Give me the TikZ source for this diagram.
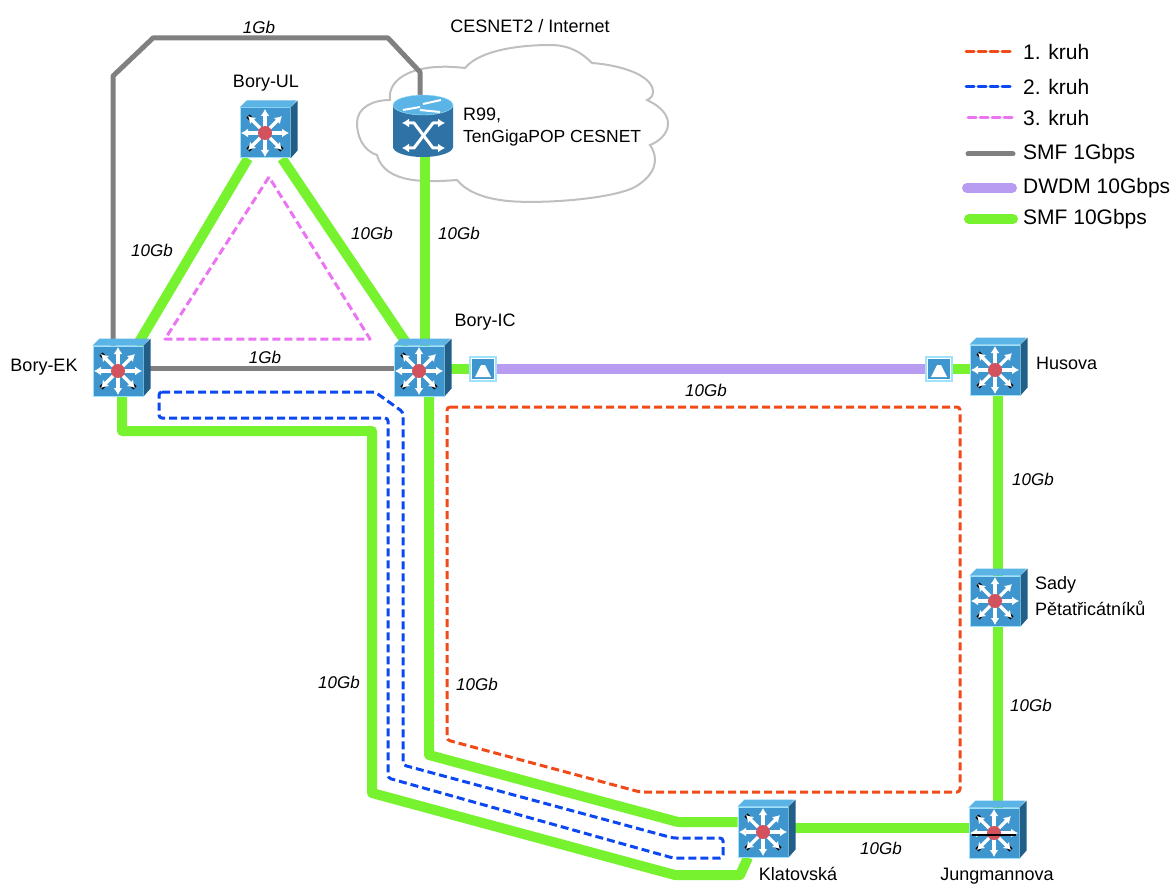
\documentclass[tikz,border=0pt]{standalone}
\usepackage{fontspec}
\setmainfont{Liberation Sans}
\usetikzlibrary{arrows.meta,backgrounds,calc,positioning}
\definecolor{SMFgreen}{HTML}{77F22E}
\definecolor{DWDMviolet}{HTML}{B79CF2}
\definecolor{SMFgray}{HTML}{808080}
\definecolor{RingRed}{HTML}{F04A18}
\definecolor{RingBlue}{HTML}{0C48F2}
\definecolor{RingPink}{HTML}{EA74F2}
\definecolor{CiscoBlue}{HTML}{3F96CF}
\definecolor{CiscoEdge}{HTML}{9FE2FB}
\definecolor{CiscoTop}{HTML}{5BB4E6}
\definecolor{CiscoSide}{HTML}{215F88}
\definecolor{CiscoDrum}{HTML}{2F72A6}
\definecolor{CiscoHub}{HTML}{D2525E}
\tikzset{
  smfgreen/.style={draw=SMFgreen,line width=10pt,line join=round},
  smfgray/.style={draw=SMFgray,line width=5pt,line join=round},
  dwdm/.style={draw=DWDMviolet,line width=10pt},
  ringred/.style={draw=RingRed,line width=3pt,dash pattern=on 8pt off 4pt,rounded corners=3pt},
  ringblue/.style={draw=RingBlue,line width=3pt,dash pattern=on 8pt off 4pt,rounded corners=3pt},
  ringpink/.style={draw=RingPink,line width=3pt,dash pattern=on 8pt off 4pt,line join=round},
  switchface/.style={rectangle,draw=CiscoEdge,line width=1pt,fill=CiscoBlue,minimum width=50pt,minimum height=50pt,inner sep=0pt},
  routerbody/.style={rectangle,minimum width=60pt,minimum height=62pt,inner sep=0pt},
  dwdmbox/.style={rectangle,draw=CiscoEdge,line width=2pt,fill=white,minimum width=26pt,minimum height=24pt,inner sep=0pt},
  spoke/.style={white,line width=3.2pt,-{Latex[length=7pt,width=9pt]}},
  crossarrow/.style={white,line width=3pt,line join=round,{Latex[length=7pt,width=9pt]}-{Latex[length=7pt,width=9pt]}},
  lab/.style={font=\fontsize{18}{21}\selectfont,inner sep=0pt},
  speed/.style={font=\fontsize{17}{20}\selectfont\itshape,inner sep=0pt},
  legend/.style={font=\fontsize{21}{24}\selectfont,inner sep=0pt,anchor=west},
}
\newcommand{\switchicon}[2]{%
  \node[switchface] (#1) at (#2) {};
  \fill[CiscoTop] (#1.north west) -- ++(7,-7) -- ++(50,0) -- (#1.north east) -- cycle;
  \fill[CiscoSide] (#1.north east) -- ++(7,-7) -- ++(0,50) -- (#1.south east) -- cycle;
  \foreach \a in {45,135,225}
    \draw[black,line width=4.4pt] (#1.center) ++(\a:17) -- ++(\a:7);
  \foreach \a in {0,45,...,315}
    \draw[spoke] (#1.center) -- ++(\a:24);
  \fill[CiscoHub] (#1.center) circle (7);
}
\newcommand{\dwdmicon}[2]{%
  \node[dwdmbox] (#1) at (#2) {};
  \fill[CiscoBlue] ($(#1.north west)+(3,3)$) rectangle ($(#1.south east)+(-3,-3)$);
  \fill[white] ($(#1.south)+(-8,-5)$) -- ++(16,0) -- ++(-6,-12) -- ++(-4,0) -- cycle;
}
\begin{document}
\begin{tikzpicture}[x=1pt,y=-1pt,>=Latex]
  \useasboundingbox (0,0) rectangle (1175,885);

  % icons
  \switchicon{boryul}{265,133}
  \switchicon{boryek}{118,371}
  \switchicon{boryic}{419,371}
  \switchicon{husova}{995,370}
  \switchicon{sady}{995,601}
  \switchicon{klatovska}{763,832}
  \switchicon{jungmannova}{994,833}
  \draw[black,line width=1.4pt] ($(jungmannova.center)+(-22,2)$) -- ($(jungmannova.center)+(22,2)$);
  \dwdmicon{dwdmic}{483,369}
  \dwdmicon{dwdmhus}{939,369}

  % router
  \node[routerbody] (r99) at (423,126) {};
  \fill[CiscoDrum] (393,105) -- (393,147) arc[start angle=180,end angle=360,x radius=30,y radius=-10] -- (453,105) -- cycle;
  \filldraw[fill=CiscoTop,draw=CiscoEdge] (423,105) ellipse (30 and 10);
  \draw[crossarrow] (402,123) -- (414,123) -- (433,148) -- (445,148);
  \draw[crossarrow] (402,148) -- (414,148) -- (433,123) -- (445,123);
  \foreach \xa/\ya/\xb/\yb in {403/110/420/107,423/104/441/100,420/110/440/112}
    \draw[white,line width=2pt] (\xa,\ya) -- (\xb,\yb);

  \begin{scope}[on background layer]
    \draw[draw=black!25,line width=2pt,fill=white] (357,123) .. controls (357,108) and (372,100) .. (390,100)
      .. controls (387,78) and (415,62) .. (465,68)
      .. controls (480,50) and (520,45) .. (550,45) .. controls (570,45) and (582,53) .. (592,63)
      .. controls (620,65) and (653,75) .. (653,92) .. controls (653,96) and (650,99) .. (647,100)
      .. controls (660,106) and (669,115) .. (668,125) .. controls (667,135) and (658,142) .. (650,145)
      .. controls (660,160) and (655,175) .. (635,187) .. controls (610,200) and (530,205) .. (500,200)
      .. controls (480,197) and (465,190) .. (457,180)
      .. controls (430,182) and (385,185) .. (377,155)
      .. controls (362,150) and (357,135) .. (357,123) -- cycle;

    % rings
    \draw[ringpink] (269,177) -- (165,339) -- (370,339) -- cycle;
    \draw[ringblue] (159,392) -- (375,392) -- (403,412) -- (403,765) -- (673,838) -- (723,838) -- (723,858) -- (673,858) -- (388,778) -- (388,418) -- (159,418) -- cycle;
    \draw[ringred] (447,407) -- (960,407) -- (960,792) -- (640,792) -- (447,740) -- cycle;

    % links
    \draw[smfgray] ([xshift=-5]boryek.north) -- (113,76) -- (153,38) -- (388,38) -- (420,72) -- ([xshift=-3]r99.north);
    \draw[smfgray] ([yshift=3]boryek.east) -- ([yshift=3]boryic.west);
    \draw[smfgreen] (boryul.south) ++(-17,0) -- ([xshift=19]boryek.north);
    \draw[smfgreen] (boryul.south) ++(17,0) -- ([xshift=-11]boryic.north);
    \draw[smfgreen] ([xshift=2]r99.south) -- ([xshift=6]boryic.north);
    \draw[smfgreen] ([xshift=4]boryek.south) -- (122,431) -- (372,431) -- (372,793) -- (675,875) -- (740,875) -- ([xshift=-15]klatovska.south);
    \draw[smfgreen] ([xshift=10]boryic.south) -- (429,755) -- (678,822) -- ([yshift=10]klatovska.west);
    \draw[smfgreen] ([yshift=4]klatovska.east) -- ([yshift=5]jungmannova.west);
    \draw[smfgreen] ([xshift=3]husova.south) -- ([xshift=3]sady.north);
    \draw[smfgreen] ([xshift=3]sady.south) -- ([xshift=4]jungmannova.north);
    \draw[smfgreen] ([yshift=2]boryic.east) -- (dwdmic.west);
    \draw[smfgreen] (dwdmhus.east) -- ([yshift=1]husova.west);
    \draw[dwdm] (dwdmic.east) -- (dwdmhus.west);
  \end{scope}

  % labels
  \node[speed] (sp1) at (259,27) {1Gb};
  \node[lab] (cesnet) at (530,26) {CESNET2 / Internet};
  \node[lab] (lbul) at (266,83) {Bory-UL};
  \node[lab,anchor=west] (lbr99) at (463,115) {R99,};
  \node[lab,anchor=west,font=\fontsize{17.5}{21}\selectfont] (lbten) at (463,138) {TenGigaPOP CESNET};
  \node[speed] (sp2) at (152,250) {10Gb};
  \node[speed] (sp3) at (372,233) {10Gb};
  \node[speed] (sp4) at (459,233) {10Gb};
  \node[lab] (lbic) at (485,322) {Bory-IC};
  \node[lab] (lbek) at (44,367) {Bory-EK};
  \node[speed] (sp5) at (265,357) {1Gb};
  \node[speed] (sp6) at (706,390) {10Gb};
  \node[lab,anchor=west] (lbhus) at (1036,363) {Husova};
  \node[speed] (sp7) at (1033,479) {10Gb};
  \node[lab,anchor=west] (lbsady) at (1035,585) {Sady};
  \node[lab,anchor=west] (lbpet) at (1035,608) {Pětatřicátníků};
  \node[speed] (sp8) at (1031,705) {10Gb};
  \node[speed] (sp9) at (339,682) {10Gb};
  \node[speed] (sp10) at (477,684) {10Gb};
  \node[speed] (sp11) at (881,848) {10Gb};
  \node[lab,anchor=base] (lbkla) at (798,880) {Klatovská};
  \node[lab,anchor=base] (lbjun) at (997,880) {Jungmannova};

  % legend
  \foreach \i/\ya/\xa/\xb/\st/\txt in {1/52/966/1013/ringred/1. kruh,2/87/966/1013/ringblue/2. kruh,3/118/968/1013/ringpink/3. kruh,4/154/968/1013/smfgray/SMF 1Gbps,5/188/967/1012/dwdm/DWDM 10Gbps,6/219/969/1013/smfgreen/SMF 10Gbps} {
    \node[legend] (key\i) at (1023,\ya) {\txt};
    \coordinate (from\i) at (\xa,\ya);
    \coordinate (to\i) at (\xb,\ya);
    \draw[\st,line cap=round] (from\i) -- (to\i);
  }
\end{tikzpicture}
\end{document}
